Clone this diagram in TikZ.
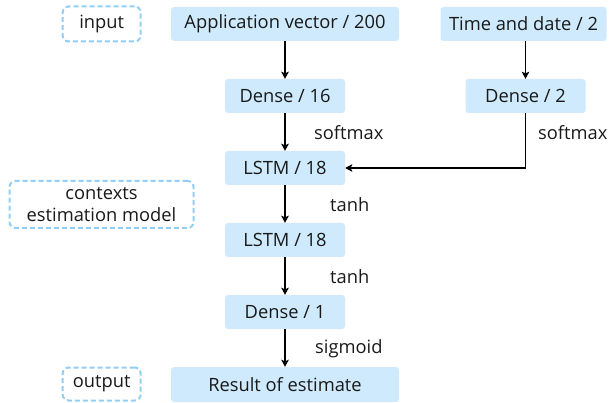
\documentclass[tikz,border=0pt]{standalone}
\usepackage{fontspec}
\setmainfont{Open Sans}
\usetikzlibrary{arrows.meta}
\definecolor{boxfill}{RGB}{206,234,252}
\definecolor{dashc}{RGB}{145,207,248}
\begin{document}
\begin{tikzpicture}[x=1pt,y=-1pt,
  every node/.style={font=\fontsize{18.3}{22}\selectfont, text=black!90},
  blk/.style={fill=boxfill, rounded corners=3pt, inner sep=0pt, minimum height=34pt},
  tag/.style={draw=dashc, dash pattern=on 5pt off 3pt, line width=2pt, fill=white, rounded corners=6pt, inner sep=0pt, align=center},
  conn/.style={line width=1.8pt, -{Stealth[length=7pt,width=7.5pt,inset=1.5pt]}},
  lab/.style={anchor=west, inner sep=0pt}]
\useasboundingbox (0,0) rectangle (610,403);
\node[tag, minimum width=78pt, minimum height=35pt] (input) at (101.7,24) {input};
\node[blk, minimum width=228pt] (app) at (285,24) {Application vector / 200};
\node[blk, minimum width=166pt] (time) at (523.5,24) {Time and date / 2};
\node[blk, minimum width=120pt] (d16) at (285,96) {Dense / 16};
\node[blk, minimum width=120pt] (d2) at (525.5,96) {Dense / 2};
\node[blk, minimum width=120pt] (l1) at (285,168) {LSTM / 18};
\node[tag, minimum width=184pt, minimum height=47pt, font=\fontsize{18.3}{22.5}\selectfont] (ctx) at (101.5,204.5) {contexts\\estimation model};
\node[blk, minimum width=120pt] (l2) at (285,240) {LSTM / 18};
\node[blk, minimum width=120pt] (d1) at (285,312) {Dense / 1};
\node[blk, minimum width=228pt, minimum height=35pt] (res) at (285,384.5) {Result of estimate};
\node[tag, minimum width=78pt, minimum height=33pt] (out) at (101.7,384) {output};

\draw[conn] (app) -- (d16);
\draw[conn] (time.south -| d2) -- (d2);
\draw[conn] (d16) -- (l1);
\draw[conn] (d2.south) |- (l1.east);
\draw[conn] (l1) -- (l2);
\draw[conn] (l2) -- (d1);
\draw[conn] (d1) -- (res);

\node[lab] (s1) at (314,133) {softmax};
\node[lab] (s2) at (538,133) {softmax};
\node[lab] (t1) at (330,205) {tanh};
\node[lab] (t2) at (330,277) {tanh};
\node[lab] (sg) at (315,349) {sigmoid};
\end{tikzpicture}
\end{document}
